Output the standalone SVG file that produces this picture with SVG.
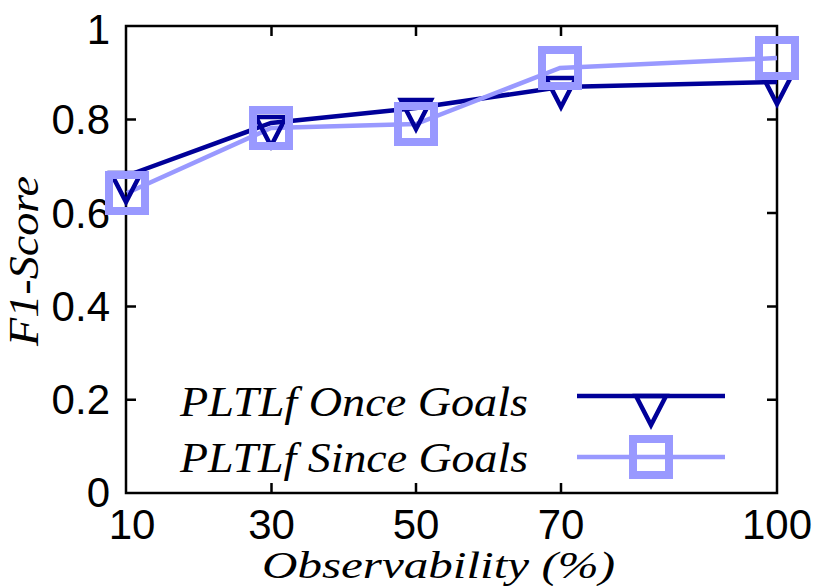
<svg xmlns="http://www.w3.org/2000/svg" width="830" height="586" viewBox="0 0 830 586">
<style>
.t{font-family:"Liberation Sans",Arial,sans-serif;font-size:42px;fill:#000}
.i{font-family:"Liberation Serif","Times New Roman",serif;font-style:italic;font-size:42px;fill:#000}
.ax{fill:none;stroke:#000;stroke-width:2.5}
.o{fill:none;stroke:#000099;stroke-width:4.5}
.s{fill:none;stroke:#9999ff;stroke-width:4.5}
.sq{fill:none;stroke:#9999ff;stroke-width:8}
.tr{fill:none;stroke:#000099;stroke-width:4.5}
</style>
<defs>
<path id="tri" d="M-15,-10 L15,-10 L0,19 Z"/>
<rect id="sq" x="-18" y="-18" width="36" height="36"/>
</defs>
<g id="axes">
<rect class="ax" x="126" y="26" width="651" height="467"/>
<path class="ax" d="M126,119.6h10M126,213h10M126,306.4h10M126,399.8h10M777,119.6h-10M777,213h-10M777,306.4h-10M777,399.8h-10M271.5,493v-10M416,493v-10M561,493v-10M271.5,26v10M416,26v10M561,26v10"/>
</g>
<g id="ticklabels" class="t">
<text x="110" y="44" text-anchor="end">1</text>
<text x="110" y="134" text-anchor="end">0.8</text>
<text x="110" y="228" text-anchor="end">0.6</text>
<text x="110" y="321" text-anchor="end">0.4</text>
<text x="110" y="414" text-anchor="end">0.2</text>
<text x="110" y="507" text-anchor="end">0</text>
<text x="132" y="539" text-anchor="middle">10</text>
<text x="271.5" y="539" text-anchor="middle">30</text>
<text x="416" y="539" text-anchor="middle">50</text>
<text x="561" y="539" text-anchor="middle">70</text>
<text x="777" y="539" text-anchor="middle">100</text>
</g>
<text class="i" x="262" y="578" style="font-size:38px" textLength="353" lengthAdjust="spacingAndGlyphs">Observability (%)</text>
<text class="i" transform="translate(38,346) rotate(-90)" textLength="170" lengthAdjust="spacingAndGlyphs">F1-Score</text>
<g id="connectors">
<polyline class="o" points="126,176 271,123 416,108 561,87 777,82"/>
<polyline class="s" points="127,193 271,128 416,124 560,68 777,58"/>
</g>
<g id="once">
<use href="#tri" class="tr" x="126" y="183"/>
<use href="#tri" class="tr" x="271" y="127"/>
<use href="#tri" class="tr" x="416" y="110"/>
<use href="#tri" class="tr" x="561" y="88"/>
<use href="#tri" class="tr" x="777" y="85"/>
</g>
<g id="since">
<use href="#sq" class="sq" x="127" y="193"/>
<use href="#sq" class="sq" x="271" y="128"/>
<use href="#sq" class="sq" x="416" y="124"/>
<use href="#sq" class="sq" x="560" y="68"/>
<use href="#sq" class="sq" x="777" y="58"/>
</g>
<g id="legend">
<text class="i" x="180" y="416" textLength="348" lengthAdjust="spacingAndGlyphs">PLTLf Once Goals</text>
<text class="i" x="180" y="472" textLength="348" lengthAdjust="spacingAndGlyphs">PLTLf Since Goals</text>
<line class="o" x1="577" y1="396" x2="725" y2="396"/>
<use href="#tri" class="tr" x="651" y="406"/>
<line class="s" x1="577" y1="457" x2="725" y2="457"/>
<use href="#sq" class="sq" x="651" y="457"/>
</g>
</svg>
